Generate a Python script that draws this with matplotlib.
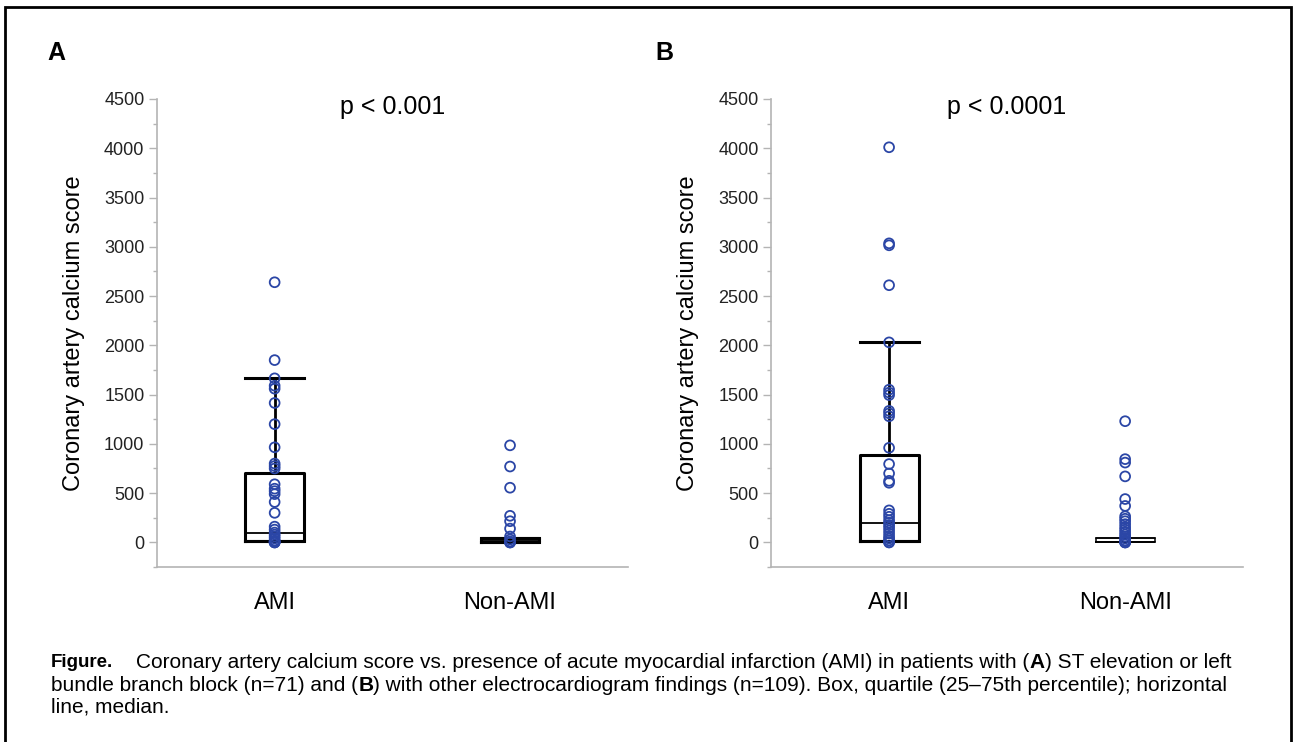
import matplotlib

matplotlib.use("Agg")
import matplotlib.pyplot as plt
from matplotlib.patches import Rectangle
from matplotlib.ticker import MultipleLocator

plt.rcParams["font.family"] = ["Liberation Sans", "DejaVu Sans"]

GROUPS = ["AMI", "Non-AMI"]
POS = [0.5, 1.5]

# panel A: ST elevation or LBBB (n=71)
A_AMI = [2640, 1850, 1665, 1590, 1560, 1415, 1200, 965, 800, 775, 750, 590,
         545, 520, 490, 410, 300, 160, 130, 100, 80, 60, 40, 20, 10, 0, 0, 0]
A_NON = [985, 770, 555, 270, 215, 140, 60, 30, 10, 0, 0, 0]
A_Q1 = [12, 5]
A_MED = [98, 20]
A_Q3 = [705, 42]
A_WHI = [1665, 42]
A_P = "p < 0.001"

# panel B: other ECG findings (n=109)
B_AMI = [4010, 3035, 3015, 2610, 2030, 1550, 1520, 1495, 1335, 1310, 1280, 960,
         795, 700, 625, 605, 325, 290, 260, 225, 200, 175, 150, 120, 90, 60,
         40, 20, 0, 0]
B_NON = [1230, 845, 810, 670, 440, 370, 265, 240, 215, 185, 155, 130, 105, 80,
         60, 40, 20, 10, 0, 0, 0]
B_Q1 = [15, 3]
B_MED = [196, 3]
B_Q3 = [885, 40]
B_WHI = [2030, 40]
B_P = "p < 0.0001"

BLUE = "#2b46a6"
GREY = "#b4b4b4"
CAP_SIZE = 15


def panel(ax, ami, non, q1, med, q3, whi, ptxt, thin_second=False):
    stats = [dict(med=med[i], q1=q1[i], q3=q3[i], whislo=q1[i], whishi=whi[i],
                  fliers=[]) for i in range(2)]
    art = ax.bxp(stats, positions=POS, widths=0.25, capwidths=0.25,
                 showfliers=False,
                 boxprops=dict(color="black", lw=2.2),
                 medianprops=dict(color="black", lw=1.3),
                 whiskerprops=dict(color="black", lw=2.0),
                 capprops=dict(color="black", lw=2.2))
    if thin_second:
        for key in ["boxes", "medians"]:
            art[key][1].set_linewidth(1.1)
        for key in ["whiskers", "caps"]:
            for ln in art[key][2:]:
                ln.set_linewidth(1.1)
    for p, vals in zip(POS, [ami, non]):
        ax.scatter([p] * len(vals), vals, s=50, facecolors="none",
                   edgecolors=BLUE, linewidths=1.3, zorder=3)
    ax.set_xlim(0, 2)
    ax.set_ylim(-250, 4500)
    ax.set_xticks(POS)
    ax.set_xticklabels(GROUPS)
    ax.yaxis.set_major_locator(MultipleLocator(500))
    ax.yaxis.set_minor_locator(MultipleLocator(250))
    for s in ["top", "right"]:
        ax.spines[s].set_visible(False)
    for s in ["left", "bottom"]:
        ax.spines[s].set_color(GREY)
        ax.spines[s].set_linewidth(1.2)
    ax.tick_params(axis="y", which="major", color=GREY, labelcolor="#222222",
                   labelsize=13, length=5.5, width=1)
    ax.tick_params(axis="y", which="minor", color=GREY, length=3, width=1)
    ax.tick_params(axis="x", length=0, labelsize=17, pad=18)
    ax.set_ylabel("Coronary artery calcium score", fontsize=17, labelpad=14)
    ax.text(1.0, 4420, ptxt, ha="center", va="center", fontsize=18)


def put_line(fig, x, y, parts):
    r = fig.canvas.get_renderer()
    for s, kw in parts:
        kw = dict(kw)
        size = kw.pop("size", CAP_SIZE)
        t = fig.text(x, y, s, va="center", fontsize=size, **kw)
        x += t.get_window_extent(renderer=r).width / fig.bbox.width


fig = plt.figure(figsize=(12.97, 7.42), dpi=100)
axA = fig.add_axes([0.121, 0.2358, 0.363, 0.6308])
axB = fig.add_axes([0.5945, 0.2358, 0.364, 0.6308])
panel(axA, A_AMI, A_NON, A_Q1, A_MED, A_Q3, A_WHI, A_P)
panel(axB, B_AMI, B_NON, B_Q1, B_MED, B_Q3, B_WHI, B_P, thin_second=True)

fig.text(0.0362, 0.9286, "A", fontsize=18, weight="bold", va="center")
fig.text(0.505, 0.9286, "B", fontsize=18, weight="bold", va="center")

fig.patches.append(Rectangle((5 / 1297, -0.1), 1286 / 1297, 0.9906 + 0.1,
                             transform=fig.transFigure, fill=False,
                             edgecolor="black", lw=2))

N = {}
BOLD = {"weight": "bold"}
HEAD = {"weight": "bold", "size": 13.5,
        "family": ["Liberation Sans Narrow", "Liberation Sans"]}
put_line(fig, 51 / 1297, 0.1065, [
    ("Figure.", HEAD),
    ("    Coronary artery calcium score vs. presence of acute myocardial "
     "infarction (AMI) in patients with (", N),
    ("A", BOLD),
    (") ST elevation or left", N)])
put_line(fig, 51 / 1297, 0.0768, [
    ("bundle branch block (n=71) and (", N),
    ("B", BOLD),
    (") with other electrocardiogram findings (n=109). Box, quartile "
     "(25\u201375th percentile); horizontal", N)])
put_line(fig, 51 / 1297, 0.0472, [("line, median.", N)])

fig.savefig("out.png", dpi=100)
